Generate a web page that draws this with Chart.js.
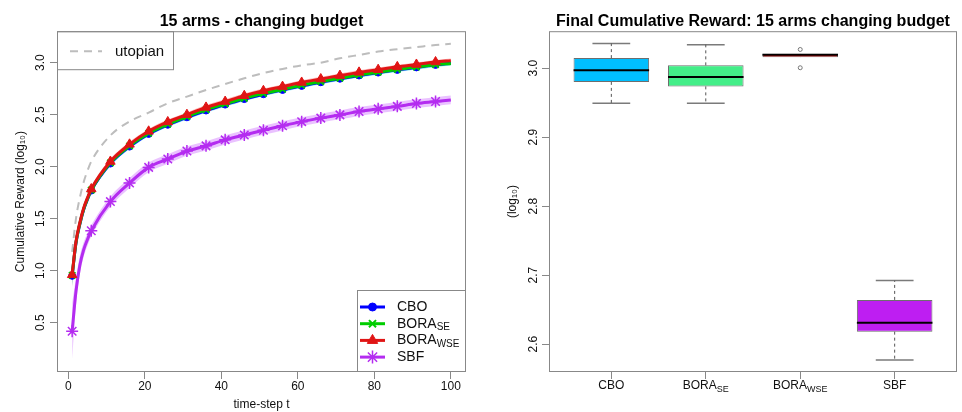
<!DOCTYPE html>
<html>
<head>
<meta charset="utf-8">
<script src="https://cdn.jsdelivr.net/npm/chart.js@4.4.1/dist/chart.umd.min.js"></script>
<style>
  html, body { margin: 0; padding: 0; background: #fff; }
  #wrap { position: relative; width: 962px; height: 412px; }
  .panel { position: absolute; top: 0; height: 412px; }
  #left { left: 0; width: 480px; }
  #right { left: 480px; width: 482px; }
</style>
</head>
<body>
<div id="wrap">
  <div class="panel" id="left"><canvas id="curveChart" width="480" height="412"></canvas></div>
  <div class="panel" id="right"><canvas id="boxChart" width="482" height="412"></canvas></div>
</div>
<script>
// time steps (markers every 5 steps, extra early points for the steep start)
const steps = [1, 2, 3, 4, 5, 6, 11, 16, 21, 26, 31, 36, 41, 46, 51, 56, 61, 66, 71, 76, 81, 86, 91, 96, 100];

// mean cumulative reward (log10)
const utopian = [1.18, 1.50, 1.70, 1.85, 1.96, 2.05, 2.30, 2.435, 2.52, 2.61, 2.674, 2.737, 2.795, 2.85, 2.90, 2.94, 2.975, 3.0, 3.042, 3.075, 3.107, 3.13, 3.15, 3.17, 3.182];
const cbo = [0.95, 1.265, 1.445, 1.585, 1.685, 1.77, 2.03, 2.193, 2.315, 2.403, 2.475, 2.54, 2.597, 2.65, 2.697, 2.738, 2.777, 2.812, 2.846, 2.877, 2.905, 2.931, 2.955, 2.979, 2.995];
const boraSE = [0.955, 1.27, 1.45, 1.59, 1.69, 1.775, 2.037, 2.2, 2.322, 2.41, 2.482, 2.548, 2.604, 2.658, 2.704, 2.745, 2.784, 2.818, 2.851, 2.882, 2.909, 2.935, 2.958, 2.981, 2.993];
const boraWSE = [0.96, 1.28, 1.46, 1.60, 1.70, 1.785, 2.05, 2.215, 2.34, 2.43, 2.50, 2.57, 2.626, 2.682, 2.73, 2.77, 2.81, 2.843, 2.876, 2.907, 2.933, 2.96, 2.983, 3.007, 3.02];
const sbf = [0.417, 0.80, 1.05, 1.20, 1.30, 1.383, 1.664, 1.843, 1.993, 2.073, 2.15, 2.20, 2.258, 2.305, 2.35, 2.393, 2.433, 2.467, 2.498, 2.53, 2.556, 2.58, 2.607, 2.626, 2.642];

// half width of the shaded bands
const cboSpread = [0.10, 0.055, 0.04, 0.032, 0.028, 0.026, 0.024, 0.023, 0.022, 0.022, 0.021, 0.021, 0.021, 0.02, 0.02, 0.02, 0.02, 0.02, 0.02, 0.02, 0.02, 0.02, 0.02, 0.02, 0.02];
const boraSESpread = [0.10, 0.06, 0.045, 0.035, 0.03, 0.028, 0.026, 0.025, 0.025, 0.025, 0.025, 0.024, 0.024, 0.024, 0.024, 0.023, 0.023, 0.023, 0.023, 0.022, 0.022, 0.022, 0.022, 0.022, 0.022];
const boraWSESpread = [0.12, 0.06, 0.045, 0.035, 0.03, 0.028, 0.025, 0.024, 0.023, 0.023, 0.022, 0.022, 0.022, 0.022, 0.021, 0.021, 0.021, 0.021, 0.02, 0.02, 0.02, 0.02, 0.02, 0.02, 0.02];
const sbfSpread = [0.27, 0.13, 0.09, 0.07, 0.06, 0.055, 0.05, 0.048, 0.047, 0.046, 0.045, 0.045, 0.045, 0.044, 0.044, 0.044, 0.043, 0.043, 0.043, 0.043, 0.042, 0.042, 0.042, 0.042, 0.042];

const curveXTicks = [0, 20, 40, 60, 80, 100];
const curveYTicks = [0.5, 1.0, 1.5, 2.0, 2.5, 3.0];

// final cumulative reward boxplot
const methodNames = ["CBO", "BORA", "BORA", "SBF"];
const methodSubs = ["", "SE", "WSE", ""];
const boxMin = [2.949, 2.949, 3.0159, 2.577];
const boxQ1 = [2.980, 2.9735, 3.0159, 2.618];
const boxMedian = [2.997, 2.987, 3.0195, 2.631];
const boxQ3 = [3.0145, 3.004, 3.0207, 2.664];
const boxMax = [3.0357, 3.034, 3.0207, 2.692];
const boxOutliers = [[], [], [3.027, 3.0005], []];
const boxYTicks = [2.6, 2.7, 2.8, 2.9, 3.0];

const FONT = '"Liberation Sans", Arial, Helvetica, sans-serif';
const TEXT = "#111";
const AXIS = "#888";
Chart.defaults.font.family = FONT;
Chart.defaults.color = TEXT;

// Series styles, listed in legend order
const curveSeries = [
  { name: "CBO", sub: "", values: cbo, spread: cboSpread, color: "#0000FF", band: "rgba(0, 200, 255, 0.35)", style: "circle", radius: 3.5, pw: 1, layer: 2 },
  { name: "BORA", sub: "SE", values: boraSE, spread: boraSESpread, color: "#00CD00", band: "rgba(0, 235, 120, 0.3)", style: "crossRot", radius: 4.5, pw: 2, layer: 1 },
  { name: "BORA", sub: "WSE", values: boraWSE, spread: boraWSESpread, color: "#E01515", band: "rgba(255, 30, 30, 0.3)", style: "triangle", radius: 5.5, pw: 1, layer: 0 },
  { name: "SBF", sub: "", values: sbf, spread: sbfSpread, color: "#B42CF0", band: "rgba(195, 80, 255, 0.35)", style: "star", radius: 6, pw: 1.5, layer: 0 }
];
const utopianColor = "#BDBDBD";
const boxColors = ["#00BFFF", "#43EE88", "#FF0000", "#BE1EF2"];

const isMarkerStep = t => (t - 1) % 5 === 0 && t < 100;

// helpers
function drawSubText(ctx, x, y, main, sub, size, align) {
  const subSize = Math.round(size * 0.72);
  ctx.font = `${size}px ${FONT}`;
  const w1 = ctx.measureText(main).width;
  ctx.font = `${subSize}px ${FONT}`;
  const w2 = sub ? ctx.measureText(sub).width : 0;
  const x0 = align === "center" ? x - (w1 + w2) / 2 : x;
  ctx.textAlign = "left";
  ctx.textBaseline = "middle";
  ctx.font = `${size}px ${FONT}`;
  ctx.fillText(main, x0, y);
  if (sub) {
    ctx.font = `${subSize}px ${FONT}`;
    ctx.fillText(sub, x0 + w1, y + size * 0.28);
  }
}

function drawMarker(ctx, style, radius, bw, x, y) {
  if (Chart.helpers && Chart.helpers.drawPoint) {
    Chart.helpers.drawPoint(ctx, { pointStyle: style, radius: radius, borderWidth: bw, rotation: 0 }, x, y);
  }
}

const frame = {
  id: "frame",
  afterDraw(chart) {
    const { ctx, chartArea: a } = chart;
    ctx.save();
    ctx.strokeStyle = AXIS;
    ctx.lineWidth = 1;
    ctx.strokeRect(a.left + 0.5, a.top + 0.5, a.right - a.left - 1, a.bottom - a.top - 1);
    ctx.restore();
  }
};

const curveLegend = {
  id: "curveLegend",
  afterDraw(chart) {
    const { ctx, chartArea: a } = chart;
    ctx.save();
    ctx.strokeStyle = AXIS;
    ctx.lineWidth = 1;
    ctx.strokeRect(a.left + 0.5, a.top + 0.5, 116, 38);
    ctx.strokeStyle = utopianColor;
    ctx.lineWidth = 2;
    ctx.setLineDash([8, 6]);
    ctx.beginPath();
    ctx.moveTo(a.left + 13, a.top + 20);
    ctx.lineTo(a.left + 45, a.top + 20);
    ctx.stroke();
    ctx.setLineDash([]);
    ctx.fillStyle = TEXT;
    ctx.font = `15px ${FONT}`;
    ctx.textBaseline = "middle";
    ctx.fillText("utopian", a.left + 58, a.top + 21);

    const bw = 109, bh = 82;
    const bx = a.right - bw, by = a.bottom - bh;
    ctx.strokeStyle = AXIS;
    ctx.lineWidth = 1;
    ctx.strokeRect(bx + 0.5, by + 0.5, bw - 1, bh - 1);
    curveSeries.forEach((s, k) => {
      const y = by + 17 + k * 16.7;
      ctx.strokeStyle = s.color;
      ctx.fillStyle = s.color;
      ctx.lineWidth = 3;
      ctx.beginPath();
      ctx.moveTo(bx + 3, y);
      ctx.lineTo(bx + 28, y);
      ctx.stroke();
      ctx.lineWidth = s.pw;
      drawMarker(ctx, s.style, s.radius + 0.5, s.pw, bx + 15.5, y);
      ctx.fillStyle = TEXT;
      drawSubText(ctx, bx + 40, y, s.name, s.sub, 14, "left");
    });
    ctx.restore();
  }
};

const boxLabels = {
  id: "boxLabels",
  afterDraw(chart) {
    const { ctx, chartArea: a, scales } = chart;
    ctx.save();
    ctx.fillStyle = TEXT;
    methodNames.forEach((n, i) => {
      drawSubText(ctx, scales.x.getPixelForValue(i + 1), a.bottom + 14, n, methodSubs[i], 12, "center");
    });
    ctx.restore();
  }
};

const axisTicks = { display: true, drawOnChartArea: false, drawTicks: true, tickLength: 7, color: AXIS };

// ---- Left: cumulative reward curves ----
const lineSets = curveSeries.map(s => ({
  type: "line",
  data: steps.map((t, i) => ({ x: t, y: s.values[i] })),
  borderColor: s.color,
  borderWidth: 3,
  pointStyle: s.style,
  pointRadius: ctx => (isMarkerStep(steps[ctx.dataIndex]) ? s.radius : 0),
  pointBackgroundColor: s.color,
  pointBorderColor: s.color,
  pointBorderWidth: s.pw,
  cubicInterpolationMode: "monotone",
  fill: false,
  order: s.layer
}));

const utopianSet = {
  type: "line",
  data: steps.map((t, i) => ({ x: t, y: utopian[i] })),
  borderColor: utopianColor,
  borderWidth: 2,
  borderDash: [8, 6],
  pointRadius: 0,
  cubicInterpolationMode: "monotone",
  fill: false,
  order: 3
};

const bandSets = [];
curveSeries.forEach(s => {
  bandSets.push({
    type: "line",
    data: steps.map((t, i) => ({ x: t, y: s.values[i] - s.spread[i] })),
    borderColor: "rgba(0,0,0,0)",
    borderWidth: 0,
    pointRadius: 0,
    cubicInterpolationMode: "monotone",
    fill: false,
    order: 10
  });
  bandSets.push({
    type: "line",
    data: steps.map((t, i) => ({ x: t, y: s.values[i] + s.spread[i] })),
    borderColor: "rgba(0,0,0,0)",
    borderWidth: 0,
    pointRadius: 0,
    cubicInterpolationMode: "monotone",
    fill: "-1",
    backgroundColor: s.band,
    order: 10
  });
});

new Chart(document.getElementById("curveChart"), {
  type: "line",
  data: { datasets: [...lineSets, utopianSet, ...bandSets] },
  options: {
    responsive: false,
    animation: false,
    events: [],
    layout: { padding: { left: 0, right: 14, top: 0, bottom: 0 } },
    plugins: {
      legend: { display: false },
      tooltip: { enabled: false },
      title: {
        display: true,
        text: "15 arms - changing budget",
        fullSize: false,
        color: "#000",
        font: { size: 16, weight: "bold", lineHeight: 1.2 },
        padding: { top: 12, bottom: 0 }
      }
    },
    scales: {
      x: {
        type: "linear",
        min: -2.96,
        max: 103.96,
        afterBuildTicks: sc => { sc.ticks = curveXTicks.map(v => ({ value: v })); },
        afterFit: sc => { sc.height = 40; },
        ticks: { font: { size: 12 }, padding: 0, color: TEXT, autoSkip: false, maxRotation: 0 },
        grid: axisTicks,
        border: { display: false },
        title: { display: true, text: "time-step t", font: { size: 12 }, color: TEXT, padding: { top: 0, bottom: 0 } }
      },
      y: {
        type: "linear",
        min: 0.025,
        max: 3.303,
        afterBuildTicks: sc => { sc.ticks = curveYTicks.map(v => ({ value: v })); },
        afterFit: sc => { sc.width = 57; },
        ticks: {
          font: { size: 12 }, color: TEXT, padding: 1, autoSkip: false,
          minRotation: 90, maxRotation: 90, crossAlign: "center",
          callback: v => v.toFixed(1)
        },
        grid: axisTicks,
        border: { display: false },
        title: { display: true, text: "Cumulative Reward (log₁₀)", font: { size: 12 }, color: TEXT, padding: { top: 13, bottom: 0 } }
      }
    }
  },
  plugins: [frame, curveLegend]
});

// ---- Right: boxplot of the final reward ----
const boxSets = [{
  type: "bar",
  data: methodNames.map((n, i) => ({ x: i + 1, y: [boxQ1[i], boxQ3[i]] })),
  backgroundColor: boxColors,
  borderColor: "#6E6E6E",
  borderWidth: 1,
  borderSkipped: false,
  barPercentage: 0.8,
  categoryPercentage: 1,
  order: 5
}];

methodNames.forEach((n, i) => {
  const c = i + 1;
  const seg = (pts, extra) => Object.assign({
    type: "line",
    data: pts,
    borderColor: "#6E6E6E",
    borderWidth: 1,
    pointRadius: 0,
    fill: false,
    order: 1
  }, extra);
  const hasWhisker = boxMax[i] > boxQ3[i] || boxMin[i] < boxQ1[i];
  boxSets.push(seg([{ x: c, y: boxQ3[i] }, { x: c, y: boxMax[i] }], { borderDash: [3, 3], borderColor: "#555" }));
  boxSets.push(seg([{ x: c, y: boxQ1[i] }, { x: c, y: boxMin[i] }], { borderDash: [3, 3], borderColor: "#555" }));
  if (hasWhisker) {
    boxSets.push(seg([{ x: c - 0.2, y: boxMax[i] }, { x: c + 0.2, y: boxMax[i] }], { borderColor: "#7A7A7A", borderWidth: 1.5 }));
    boxSets.push(seg([{ x: c - 0.2, y: boxMin[i] }, { x: c + 0.2, y: boxMin[i] }], { borderColor: "#7A7A7A", borderWidth: 1.5 }));
  }
  boxSets.push(seg([{ x: c - 0.4, y: boxMedian[i] }, { x: c + 0.4, y: boxMedian[i] }], { borderColor: "#000", borderWidth: 2, order: 0 }));
});

boxSets.push({
  type: "scatter",
  data: boxOutliers.flatMap((list, i) => list.map(v => ({ x: i + 1, y: v }))),
  pointStyle: "circle",
  pointRadius: 2,
  pointBorderWidth: 1,
  pointBorderColor: "#777",
  pointBackgroundColor: "#fff",
  order: 0
});

new Chart(document.getElementById("boxChart"), {
  type: "bar",
  data: { datasets: boxSets },
  options: {
    responsive: false,
    animation: false,
    events: [],
    layout: { padding: { left: 0, right: 3, top: 0, bottom: 0 } },
    plugins: {
      legend: { display: false },
      tooltip: { enabled: false },
      title: {
        display: true,
        text: "Final Cumulative Reward: 15 arms changing budget",
        fullSize: false,
        color: "#000",
        font: { size: 16, weight: "bold", lineHeight: 1.2 },
        padding: { top: 12, bottom: 0 }
      }
    },
    scales: {
      x: {
        type: "linear",
        min: 0.34,
        max: 4.66,
        offset: false,
        afterBuildTicks: sc => { sc.ticks = methodNames.map((n, i) => ({ value: i + 1 })); },
        afterFit: sc => { sc.height = 40; },
        ticks: { display: true, callback: () => "", autoSkip: false },
        grid: Object.assign({ offset: false }, axisTicks),
        border: { display: false }
      },
      y: {
        type: "linear",
        min: 2.5595,
        max: 3.0535,
        beginAtZero: false,
        afterBuildTicks: sc => { sc.ticks = boxYTicks.map(v => ({ value: v })); },
        afterFit: sc => { sc.width = 69; },
        ticks: {
          font: { size: 12 }, color: TEXT, padding: 0, autoSkip: false,
          minRotation: 90, maxRotation: 90, crossAlign: "center",
          callback: v => v.toFixed(1)
        },
        grid: axisTicks,
        border: { display: false },
        title: { display: true, text: "(log₁₀)", font: { size: 12 }, color: TEXT, padding: { top: 25, bottom: 0 } }
      }
    }
  },
  plugins: [frame, boxLabels]
});
</script>
</body>
</html>
